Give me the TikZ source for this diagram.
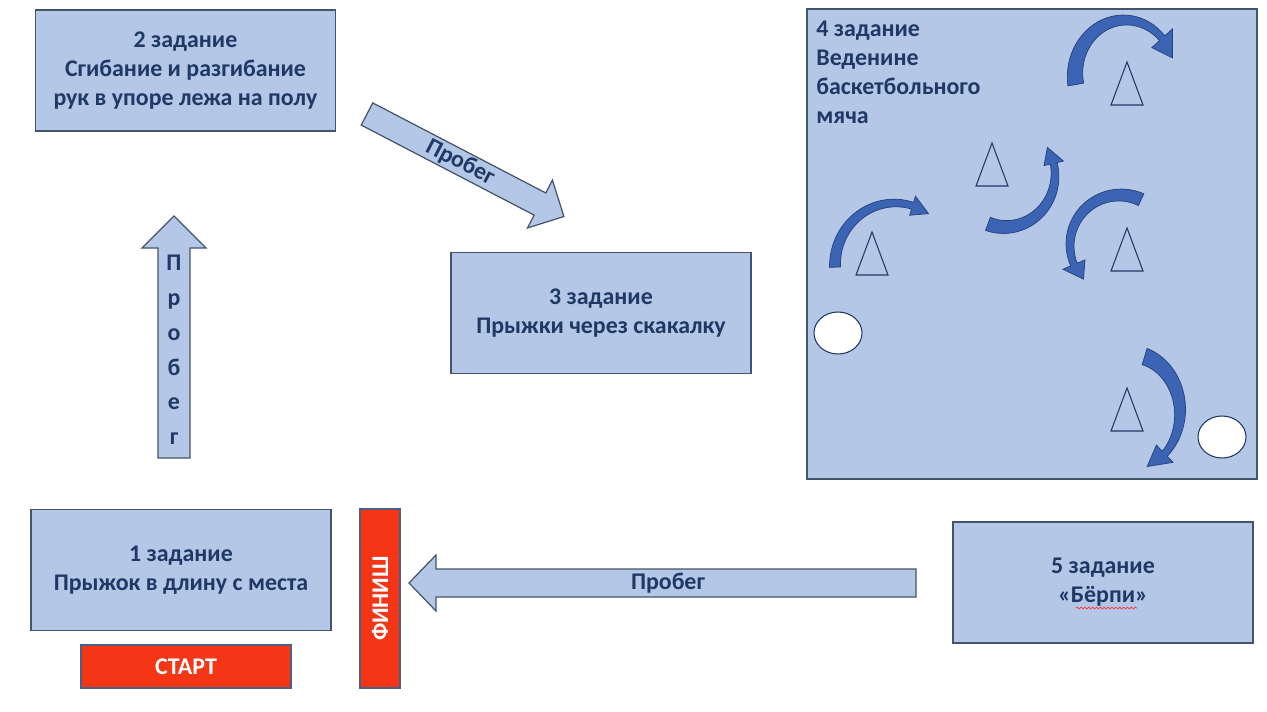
\documentclass[tikz,border=0pt]{standalone}
\usepackage{fontspec}
\setmainfont{Carlito}
\usetikzlibrary{positioning,decorations.pathmorphing}

\definecolor{boxblue}{RGB}{180,199,231}
\definecolor{boxline}{RGB}{68,84,106}
\definecolor{navy}{RGB}{31,56,100}
\definecolor{flagred}{RGB}{244,54,22}
\definecolor{turnblue}{RGB}{60,100,180}
\definecolor{turnline}{RGB}{38,64,120}

% curved dribbling arrow: centre x, centre y, x radius, y radius,
% tail angle, neck angle, tip angle, tail width, half head width
\newcommand{\bendarrow}[9]{%
  \filldraw[turn]
    plot[domain=0:1, samples=30, variable=\t]
      ({#1+(#3+(#8+(7-(#8))*\t)/2)*cos(#5+((#6)-(#5))*\t)}, {#2+(#4+(#8+(7-(#8))*\t)/2)*sin(#5+((#6)-(#5))*\t)})
    -- ({#1+(#3+#9)*cos(#6)}, {#2+(#4+#9)*sin(#6)})
    -- ({#1+#3*cos(#7)}, {#2+#4*sin(#7)})
    -- ({#1+(#3-#9)*cos(#6)}, {#2+(#4-#9)*sin(#6)})
    -- plot[domain=0:1, samples=30, variable=\t]
      ({#1+(#3-(7+((#8)-7)*\t)/2)*cos(#6+((#5)-(#6))*\t)}, {#2+(#4-(7+((#8)-7)*\t)/2)*sin(#6+((#5)-(#6))*\t)})
    -- cycle;}

\begin{document}
\begin{tikzpicture}[x=0.02cm, y=-0.02cm,
    taskfont/.style={font=\bfseries\fontsize{13.6}{16.4}\selectfont},
    taskbox/.style={rectangle, draw=boxline, fill=boxblue, line width=0.7pt,
      minimum width=6cm, minimum height=2.42cm, align=center, text=navy, taskfont},
    flag/.style={rectangle, draw=navy!80, fill=flagred, line width=0.7pt,
      text=white, taskfont},
    runarrow/.style={draw=boxline, fill=boxblue, line width=0.7pt, line join=miter},
    runlabel/.style={text=navy, taskfont, inner sep=0pt},
    cone/.style={draw=navy, line width=0.6pt},
    ball/.style={draw=navy, fill=white, line width=0.6pt},
    turn/.style={fill=turnblue, draw=turnline, line width=0.4pt}]

\useasboundingbox (0,0) rectangle (1267,711);

% tasks
\node[taskbox] (task2) at (185.5,70.5) {2 задание\\Сгибание и разгибание\\рук в упоре лежа на полу};
\node[taskbox] (task3) at (601,313) {3 задание\\Прыжки через скакалку};
\node[taskbox] (task1) at (181,570) {1 задание\\Прыжок в длину с места};
\node[taskbox] (task5) at (1103,582.5) {5 задание\\«Бёрпи»};
\node[taskbox, minimum width=9cm, minimum height=9.4cm] (task4) at (1032,244) {};
\node[runlabel, anchor=north west, align=left] (title4) at (816,21)
  {4 задание\\Веденине\\баскетбольного\\мяча};
\draw[red!80, line width=0.4pt, decorate,
  decoration={snake, amplitude=0.5pt, segment length=2.2pt}] (1076,608) -- (1137,608);

% start and finish
\node[flag, minimum width=4.2cm, minimum height=0.86cm] (start) at (186,666.5) {СТАРТ};
\node[flag, rotate=90, minimum width=3.58cm, minimum height=0.8cm] (finish) at (380,598.5) {ФИНИШ};

% runs between tasks
\draw[runarrow] (158,458) -- (158,248) -- (142,248) -- (174,216) -- (206,248) -- (190,248) -- (190,458) -- cycle;
\node[runlabel, align=center, font=\bfseries\fontsize{13.6}{19.8}\selectfont] (run12) at (174,350) {П\\р\\о\\б\\е\\г};

\begin{scope}[shift={(367,114)}, rotate=-27.5]
  \draw[runarrow] (0,-12.5) -- (195,-12.5) -- (195,-27) -- (222,0) -- (195,27) -- (195,12.5) -- (0,12.5) -- cycle;
  \node[runlabel, rotate=-27.5] (run23) at (105,0) {Пробег};
\end{scope}

\draw[runarrow] (916,569) -- (436,569) -- (436,555) -- (409,583) -- (436,611) -- (436,597) -- (916,597) -- cycle;
\node[runlabel] (run5f) at (668,583) {Пробег};

% cones and balls
\foreach \x/\y in {1127/62, 992/143, 872/232, 1127/228, 1127/388}
  \draw[cone] (\x,\y) -- ++(16,43) -- ++(-32,0) -- cycle;
\draw[ball] (838,333) ellipse [x radius=24, y radius=21];
\draw[ball] (1222,437) ellipse [x radius=24, y radius=21];

% dribbling turns
\bendarrow{1125}{75}{50}{55}{170}{318}{342}{16}{14}
\bendarrow{895}{265}{60}{62}{178}{287}{304}{11}{10}
\bendarrow{1005}{175}{50}{52}{110}{-13}{-32}{14}{10}
\bendarrow{1120}{245}{50}{50}{-65}{-203}{-223}{13}{12}
\bendarrow{1130}{412}{50}{58}{-73}{46}{70}{17}{12}
\end{tikzpicture}
\end{document}
